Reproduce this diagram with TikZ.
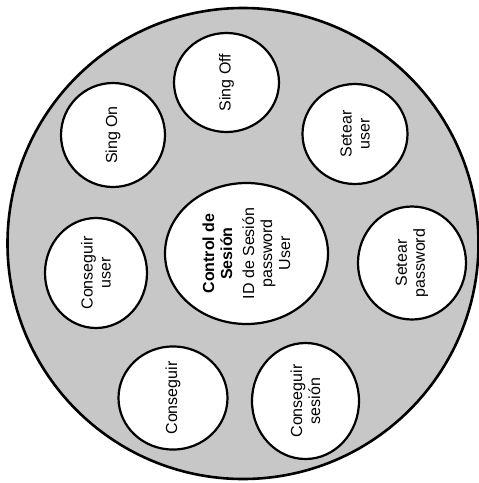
\documentclass[tikz,border=0pt]{standalone}
\usepackage{fontspec}
\setmainfont{Liberation Sans}
\usetikzlibrary{shapes.geometric}

\begin{document}
\begin{tikzpicture}[
  x=1pt,y=-1pt,
  shell/.style={circle,draw,line width=2.6pt,fill=black!22,inner sep=0pt},
  bubble/.style 2 args={ellipse,draw,line width=2.2pt,fill=white,
    rotate=90,align=center,inner sep=0pt,
    minimum width=#2,minimum height=#1,
    font=\fontsize{16}{18}\selectfont}
]
  \useasboundingbox (0,0) rectangle (479,483);
  \node[shell,minimum size=471pt] (shell) at (243,243.5) {};
  \node[bubble={105}{99}] (singoff) at (226.5,82.5) {Sing Off};
  \node[bubble={104}{104}] (singon) at (113,135) {Sing On};
  \node[bubble={105}{100}] (setuser) at (355,134) {Setear\\user};
  \node[bubble={108}{113}] (setpass) at (412,263) {Setear\\password};
  \node[bubble={102}{110}] (getuser) at (96,273) {Conseguir\\user};
  \node[bubble={163}{141}] (control) at (246.5,253.5)
    {\textbf{Control de}\\\textbf{Sesión}\\[4pt]ID de Sesión\\password\\User};
  \node[bubble={109}{103}] (get) at (173,398) {Conseguir};
  \node[bubble={107}{116}] (getsession) at (305.5,401) {Conseguir\\sesión};
\end{tikzpicture}
\end{document}
